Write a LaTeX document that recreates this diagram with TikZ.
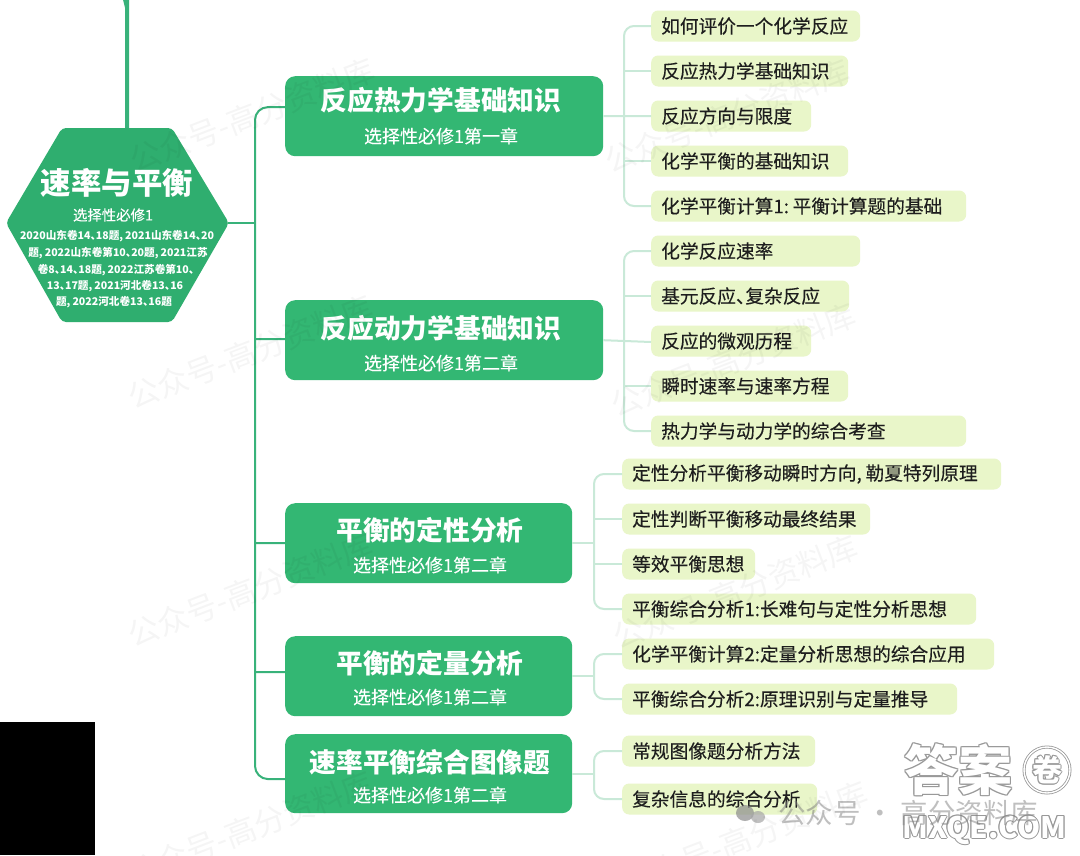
\documentclass[tikz,border=0pt]{standalone}
\usepackage{fontspec}
\setmainfont{Noto Sans CJK SC}
\newfontfamily\medfont[FakeBold=0.18]{Noto Sans CJK SC}
\usetikzlibrary{calc}
\definecolor{mainGreen}{HTML}{33B773}
\definecolor{hexGreen}{HTML}{2FAE6F}
\definecolor{trunkGreen}{HTML}{38B27A}
\definecolor{leafFill}{HTML}{E9F6C9}
\definecolor{leafLine}{HTML}{C9E9D8}
\definecolor{leafInk}{HTML}{1E1E1E}
\newcommand{\dun}{、\kern-0.5em}
\newcommand{\cma}{,\kern0.2em}
\tikzset{
  mainbox/.style={fill=mainGreen,rounded corners=10pt,anchor=north west,inner sep=0pt},
  leafbox/.style={fill=leafFill,rounded corners=7pt,anchor=west,inner xsep=10pt,inner ysep=0pt,minimum height=31pt,align=left,text=leafInk,font=\medfont\fontsize{18.7}{20}\selectfont},
  titletext/.style={text=white,font=\bfseries\fontsize{26.7}{28}\selectfont,inner sep=0pt},
  subtext/.style={text=white,font=\medfont\fontsize{18}{20}\selectfont,inner sep=0pt},
  hexline/.style={text=white,font=\bfseries\fontsize{10.6}{12}\selectfont,inner sep=0pt},
  trunkline/.style={draw=trunkGreen,line width=2pt},
  leafline/.style={draw=leafLine,line width=2pt},
  wmark/.style={text=black,opacity=0.04,font=\fontsize{31}{33}\selectfont,rotate=21,inner sep=0pt},
  wmarkplain/.style={text=black!50,opacity=0.5,font=\fontsize{27.5}{29}\selectfont,inner sep=0pt},
}
% name, x0, x1, y0, y1, title y, sub y, title, sub   (centre of the text set by \tcx)
\newcommand{\tcx}{0}
\newcommand{\mainB}[9]{%
  \node[mainbox,minimum width=#3pt-#2pt,minimum height=#5pt-#4pt] (#1) at (#2,#4) {};
  \node[titletext] (#1t) at (\tcx,#6) {#8};
  \node[subtext] (#1s) at (\tcx,#7) {#9};
}
\newcommand{\leafB}[5]{%
  \node[leafbox,text width=#3pt-#2pt-20pt] (#1) at (#2,#4) {#5};
}
\begin{document}
\begin{tikzpicture}[x=1pt,y=-1pt]
\useasboundingbox (0,0) rectangle (1080,855);
\fill[white] (0,0) rectangle (1080,855);

% named points
\coordinate (hexN) at (127,128);
\coordinate (topA) at (127,6);
\coordinate (topB) at (124,-3);
\coordinate (hexE) at (228,223);
\coordinate (hubA) at (255,223);

% top connector
\draw[draw=trunkGreen,line width=4pt] (hexN) -- (topA) to[out=-90,in=-60] (topB);

% hexagon
\fill[hexGreen,rounded corners=4pt] (62,128) -- (172,128) -- (229,223) -- (172,322) -- (62,322) -- (6,223) -- cycle;
\node[text=white,font=\bfseries\fontsize{30.4}{32}\selectfont,inner sep=0pt] (hexT) at (117,183) {速率与平衡};
\node[text=white,font=\medfont\fontsize{14.4}{16}\selectfont,inner sep=0pt] (hexS) at (113,215) {选择性必修1};
\node[hexline] (hexL1) at (117,236) {2020山东卷14\dun 18题\cma 2021山东卷14\dun 20};
\node[hexline] (hexL2) at (118,253) {题\cma 2022山东卷第10\dun 20题\cma 2021江苏};
\node[hexline] (hexL3) at (116,270) {卷8\dun 14\dun 18题\cma 2022江苏卷第10\dun};
\node[hexline] (hexL4) at (115,286) {13\dun 17题\cma 2021河北卷13\dun 16};
\node[hexline] (hexL5) at (114,302) {题\cma 2022河北卷13\dun 16题};

% main boxes
\renewcommand{\tcx}{441}
\mainB{b1}{285}{603}{76}{156}{100}{136}{反应热力学基础知识}{选择性必修1第一章}
\mainB{b2}{285}{603}{300}{380}{328}{363}{反应动力学基础知识}{选择性必修1第二章}
\renewcommand{\tcx}{430}
\mainB{b3}{285}{572}{503}{583}{530}{565}{平衡的定性分析}{选择性必修1第二章}
\mainB{b4}{285}{572}{636}{716}{663}{697}{平衡的定量分析}{选择性必修1第二章}
\mainB{b5}{285}{572}{734}{813}{762}{795}{速率平衡综合图像题}{选择性必修1第二章}

% leaves
\leafB{a1}{651}{860}{26}{如何评价一个化学反应}
\leafB{a2}{651}{848}{71}{反应热力学基础知识}
\leafB{a3}{651}{811}{116}{反应方向与限度}
\leafB{a4}{651}{848}{161}{化学平衡的基础知识}
\leafB{a5}{651}{966}{206}{化学平衡计算1:\kern0.2em 平衡计算题的基础}
\leafB{c1}{651}{860}{251}{化学反应速率}
\leafB{c2}{651}{849}{296}{基元反应\dun 复杂反应}
\leafB{c3}{651}{811}{341}{反应的微观历程}
\leafB{c4}{651}{848}{386}{瞬时速率与速率方程}
\leafB{c5}{651}{966}{431}{热力学与动力学的综合考查}
\leafB{d1}{622}{1001}{474}{定性分析平衡移动瞬时方向\cma 勒夏特列原理}
\leafB{d2}{622}{870}{519}{定性判断平衡移动最终结果}
\leafB{d3}{622}{755}{564}{等效平衡思想}
\leafB{d4}{622}{976}{609}{平衡综合分析1:长难句与定性分析思想}
\leafB{e1}{622}{994}{654}{化学平衡计算2:定量分析思想的综合应用}
\leafB{e2}{622}{957}{699}{平衡综合分析2:原理识别与定量推导}
\leafB{f1}{622}{815}{751}{常规图像题分析方法}
\leafB{f2}{622}{817}{799}{复杂信息的综合分析}

% main trunk
\draw[trunkline] (hexE) -- (hubA);
\draw[trunkline,rounded corners=13pt] ($(b1.west)+(0,-9)$) -- (255,107) -- (255,779) -- ($(b5.west)+(0,5.5)$);
\draw[trunkline] (255,339) -- ($(b2.west)+(0,-1)$);
\draw[trunkline] (255,543) -- (b3.west);
\draw[trunkline] (255,672) -- ($(b4.west)+(0,-4)$);

% leaf trunks
\draw[leafline,rounded corners=10pt] (a1.west) -- ++(-27,0) |- (a5.west);
\draw[leafline] (b1.east) -- (a3.west);
\draw[leafline] (a2.west) -- ++(-27,0);
\draw[leafline] (a4.west) -- ++(-27,0);

\draw[leafline,rounded corners=10pt] (c1.west) -- ++(-27,0) |- (c5.west);
\draw[leafline] (b2.east) -- ($(c3.west)+(0,1)$);
\draw[leafline] (c2.west) -- ++(-27,0);
\draw[leafline] (c4.west) -- ++(-27,0);

\draw[leafline,rounded corners=10pt] (d1.west) -- ++(-28,0) |- (d4.west);
\draw[leafline] (b3.east) -- ++(22,0);
\draw[leafline] (d2.west) -- ++(-28,0);
\draw[leafline] (d3.west) -- ++(-28,0);

\draw[leafline,rounded corners=10pt] (e1.west) -- ++(-28,0) |- (e2.west);
\draw[leafline] (b4.east) -- ++(22,0);

\draw[leafline,rounded corners=10pt] (f1.west) -- ++(-28,0) |- (f2.west);
\draw[leafline] (b5.east) -- ++(22,0);

% black block
\node[fill=black,minimum width=95pt,minimum height=133pt,anchor=north west,inner sep=0pt] (blk) at (0,722) {};

% faint watermarks
\foreach \n/\px/\py in {1/252/115,2/727/116,3/250/352,4/733/360,5/250/590,6/735/592}{
  \node[wmark] (wm\n) at (\px,\py) {公众号-高分资料库};
}

% bottom-right stamp: hollow letters
\foreach \k/\dx/\dy in {1/1/0,2/-1/0,3/0/1,4/0/-1,5/0.8/0.8,6/-0.8/0.8,7/0.8/-0.8,8/-0.8/-0.8}{
  \node[text=black!40,font=\bfseries\fontsize{54}{56}\selectfont,inner sep=0pt,anchor=west] (an\k) at (904+\dx,770+\dy) {答案};
  \node[text=black!40,font=\bfseries\fontsize{30}{32}\selectfont,inner sep=0pt] (qn\k) at (1047+\dx,770+\dy) {卷};
  \node[text=black!40,font=\bfseries\fontsize{29.5}{31}\selectfont,inner sep=0pt,anchor=west] (mx\k) at (902+\dx,830+\dy) {MXQE.COM};
}
\node[text=white,font=\bfseries\fontsize{54}{56}\selectfont,inner sep=0pt,anchor=west] (an) at (904,770) {答案};
\draw[black!40,line width=3pt] (1047,770) circle (23pt);
\draw[white,line width=1.4pt] (1047,770) circle (23pt);
\node[text=white,font=\bfseries\fontsize{30}{32}\selectfont,inner sep=0pt] (qn) at (1047,770) {卷};
\node[text=white,font=\bfseries\fontsize{29.5}{31}\selectfont,inner sep=0pt,anchor=west] (mx) at (902,830) {MXQE.COM};

\fill[black!45,opacity=0.7] (745,813) ellipse (9pt and 8pt);
\fill[black!35,opacity=0.7] (758,817) ellipse (7pt and 6pt);
\node[wmarkplain,anchor=west] (stamp) at (778,813) {公众号 · 高分资料库};
\foreach \n/\px/\py in {7/250/828,8/745/838}{
  \node[wmark] (wm\n) at (\px,\py) {公众号-高分资料库};
}
\end{tikzpicture}
\end{document}
